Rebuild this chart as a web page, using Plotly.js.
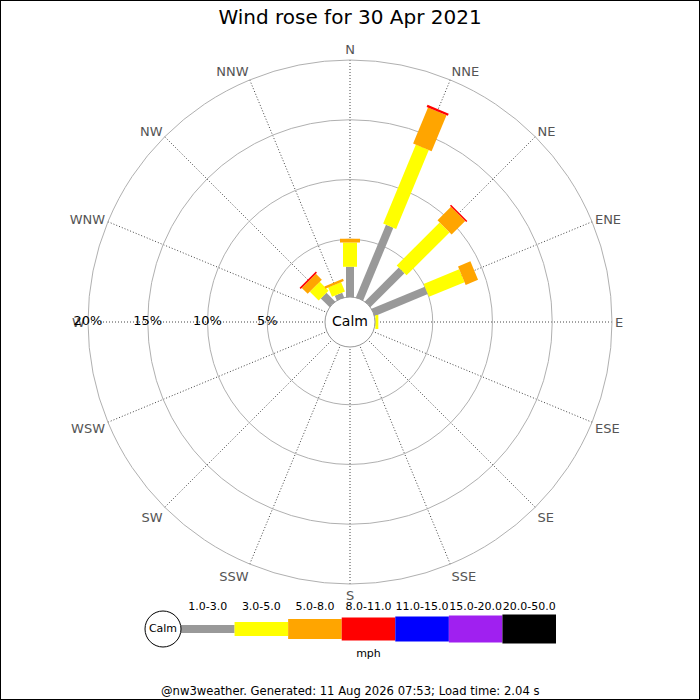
<!DOCTYPE html>
<html><head><meta charset="utf-8">
<script src="https://cdn.plot.ly/plotly-3.0.1.min.js"></script>
<style>html,body{margin:0;padding:0;background:#fff}</style>
</head><body>
<div id="chart" style="width:700px;height:700px"></div>
<script>
// ---- data ----
const directions = ['N','NNE','NE','ENE','E','ESE','SE','SSE','S','SSW','SW','WSW','W','WNW','NW','NNW'];
const dirAngles = [0,22.5,45,67.5,90,112.5,135,157.5,180,202.5,225,247.5,270,292.5,315,337.5];
const speedBins = ['1.0-3.0','3.0-5.0','5.0-8.0','8.0-11.0','11.0-15.0','15.0-20.0','20.0-50.0'];
// percentage of observations per direction in each speed bin (mph)
const pct_1_3   = [2.70,6.75,4.19,4.99,0.20,0,0,0,0,0,0,0,0,0,1.20,0.60];
const pct_3_5   = [2.04,7.15,5.08,3.22,0.25,0,0,0,0,0,0,0,0,0,1.05,0.85];
const pct_5_8   = [0.31,3.26,1.60,1.12,0,0,0,0,0,0,0,0,0,0,0.70,0.20];
const pct_8_11  = [0,0.19,0.13,0,0,0,0,0,0,0,0,0,0,0,0.13,0];
const pct_11_15 = [0,0,0,0,0,0,0,0,0,0,0,0,0,0,0,0];
const pct_15_20 = [0,0,0,0,0,0,0,0,0,0,0,0,0,0,0,0];
const pct_20_50 = [0,0,0,0,0,0,0,0,0,0,0,0,0,0,0,0];
const radialTicks = [5,10,15,20];
const radialTickLabels = ['5%','10%','15%','20%'];
const titleText = 'Wind rose for 30 Apr 2021';
const unitLabel = 'mph';
const calmLabel = 'Calm';
const footerText = '@nw3weather. Generated: 11 Aug 2026 07:53; Load time: 2.04 s';

// ---- styles ----
const binColors = ['#999999','#ffff00','#ffa500','#ff0000','#0000ff','#a020f0','#000000'];
const binWidths = [8,14,20,23,25,27,29];
const FONT = 'DejaVu Sans, Verdana, sans-serif';

const allBins = [pct_1_3,pct_3_5,pct_5_8,pct_8_11,pct_11_15,pct_15_20,pct_20_50];
const traces = [];
const cum = directions.map(() => 0);
allBins.forEach((vals, b) => {
  const r = [], th = [];
  vals.forEach((v, i) => {
    if (v > 0) {
      r.push(cum[i], cum[i] + v, null);
      th.push(dirAngles[i], dirAngles[i], null);
      cum[i] += v;
    }
  });
  traces.push({
    type: 'scatterpolar', mode: 'lines', r: r, theta: th,
    connectgaps: false, hoverinfo: 'skip',
    line: {color: binColors[b], width: binWidths[b]}, showlegend: false
  });
});
const rMin = -1.92;
// calm circle
traces.push({
  type: 'scatterpolar', mode: 'markers+text', r: [rMin], theta: [0],
  marker: {size: 50, color: '#ffffff', line: {color: '#999999', width: 1}},
  text: [calmLabel], textposition: 'middle center',
  textfont: {family: FONT, size: 14, color: '#000'}, cliponaxis: false,
  hoverinfo: 'skip', showlegend: false
});
// radial tick labels along W
traces.push({
  type: 'scatterpolar', mode: 'text', r: radialTicks, theta: radialTicks.map(() => 270),
  text: radialTickLabels, textposition: 'middle center',
  textfont: {family: FONT, size: 13, color: '#000'}, cliponaxis: false,
  hoverinfo: 'skip', showlegend: false
});

// ---- legend (cartesian strip) ----
speedBins.forEach((lab, i) => {
  traces.push({
    type: 'scatter', mode: 'lines', x: [i, i + 1], y: [0, 0], xaxis: 'x', yaxis: 'y',
    line: {color: binColors[i], width: binWidths[i]}, hoverinfo: 'skip', showlegend: false,
    cliponaxis: false
  });
});
traces.push({
  type: 'scatter', mode: 'text', x: speedBins.map((l, i) => i + 0.5), y: speedBins.map(() => 0.72),
  text: speedBins, textfont: {family: FONT, size: 11, color: '#000'},
  xaxis: 'x', yaxis: 'y', cliponaxis: false, hoverinfo: 'skip', showlegend: false
});
traces.push({
  type: 'scatter', mode: 'markers+text', x: [-0.336], y: [0], text: [calmLabel],
  marker: {size: 36, color: '#fff', line: {color: '#000', width: 1}},
  textfont: {family: FONT, size: 11, color: '#000'}, textposition: 'middle center',
  xaxis: 'x', yaxis: 'y', cliponaxis: false, hoverinfo: 'skip', showlegend: false
});
traces.push({
  type: 'scatter', mode: 'text', x: [3.5], y: [-0.83], text: [unitLabel],
  textfont: {family: FONT, size: 11, color: '#000'},
  xaxis: 'x', yaxis: 'y', cliponaxis: false, hoverinfo: 'skip', showlegend: false
});

const layout = {
  width: 700, height: 700,
  margin: {l: 0, r: 0, t: 0, b: 0},
  paper_bgcolor: '#fff', plot_bgcolor: 'rgba(0,0,0,0)',
  font: {family: FONT},
  title: {text: titleText, x: 0.5, xanchor: 'center', y: 1 - 17/700, yanchor: 'middle',
          font: {family: FONT, size: 20, color: '#000'}},
  showlegend: false,
  polar: {
    domain: {x: [88/700, 612/700], y: [1 - 584/700, 1 - 60/700]},
    bgcolor: 'rgba(0,0,0,0)',
    radialaxis: {
      range: [rMin, 20], tickvals: radialTicks, showticklabels: false, ticks: '',
      showline: false, gridcolor: '#b0b0b0', gridwidth: 1, layer: 'below traces'
    },
    angularaxis: {
      type: 'linear', rotation: 90, direction: 'clockwise', thetaunit: 'degrees',
      tickvals: dirAngles, ticktext: directions, ticks: '',
      tickfont: {family: FONT, size: 13, color: '#555555'},
      showline: true, linecolor: '#b0b0b0', linewidth: 1,
      gridcolor: '#444444', gridwidth: 1, griddash: '1px,2px', layer: 'below traces'
    }
  },
  xaxis: {domain: [145/700, 556/700], range: [-0.672, 7], visible: false, fixedrange: true},
  yaxis: {domain: [1 - 659/700, 1 - 599/700], range: [-1, 1], visible: false, fixedrange: true},
  annotations: [{
    text: footerText, xref: 'paper', yref: 'paper', x: 0.5, y: 1 - 691/700,
    xanchor: 'center', yanchor: 'middle', showarrow: false,
    font: {family: FONT, size: 11.6, color: '#000'}
  }],
  shapes: [{type: 'rect', xref: 'paper', yref: 'paper', x0: 0, x1: 1, y0: 0, y1: 1,
            line: {color: '#000', width: 2}, fillcolor: 'rgba(0,0,0,0)'}]
};
Plotly.newPlot('chart', traces, layout, {displayModeBar: false, staticPlot: true});
</script>
</body></html>
